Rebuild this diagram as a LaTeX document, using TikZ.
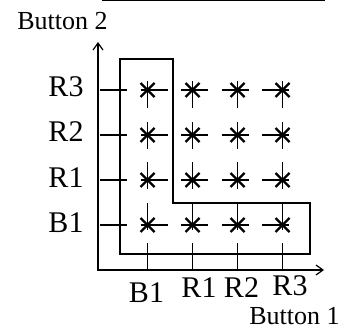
\documentclass[tikz,border=0pt]{standalone}
\usepackage{fontspec}
\setmainfont{Liberation Serif}
\usetikzlibrary{arrows.meta}
\begin{document}
\begin{tikzpicture}[x=1pt,y=-1pt,
  >={Straight Barb[length=7pt,width=10pt,line width=1.2pt]},
  axisline/.style={line width=1.8pt,<->},
  gridline/.style={line width=1.2pt,dash pattern=on 27pt off 13.5pt},
  boxline/.style={line width=2.4pt,line join=miter},
  xmark/.style={line width=2.2pt},
  lbl/.style={inner sep=0pt,anchor=base,font=\fontsize{30}{30}\selectfont},
  btn/.style={inner sep=0pt,anchor=base,font=\fontsize{26}{26}\selectfont}]
\useasboundingbox (0,0) rectangle (343,329);
% top rule
\draw[line width=2pt] (102,0.5) -- (325,0.5);
% grid lines (dashed)
\foreach \y in {90,135,180,225} \draw[gridline] (100,\y) -- (292,\y);
\foreach \x in {147.5,192.5,237.5,282.5} \draw[gridline] (\x,270) -- (\x,80);
% crosses
\foreach \x in {147.5,192.5,237.5,282.5}
  \foreach \y in {90,135,180,225}
    \draw[xmark] (\x-7,\y-7) -- (\x+7,\y+7) (\x-7,\y+7) -- (\x+7,\y-7);
% L-shaped box
\draw[boxline] (120,59) -- (173,59) -- (173,203) -- (310,203) -- (310,254) -- (120,254) -- cycle;
% axes
\coordinate (ytip) at (98,42);
\coordinate (origin) at (98,270);
\coordinate (xtip) at (324,270);
\draw[axisline] (ytip) -- (origin) -- (xtip);
% labels
\node[btn] (b2) at (62.5,30) {Button 2};
\node[btn] (b1) at (294.5,324) {Button 1};
\node[lbl] (yr3) at (66,96) {R3};
\node[lbl] (yr2) at (66,141) {R2};
\node[lbl] (yr1) at (66,187) {R1};
\node[lbl] (yb1) at (66,232) {B1};
\node[lbl] (xb1) at (146.5,302) {B1};
\node[lbl] (xr1) at (199,297) {R1};
\node[lbl] (xr2) at (241.5,297) {R2};
\node[lbl] (xr3) at (290,295) {R3};
\end{tikzpicture}
\end{document}
